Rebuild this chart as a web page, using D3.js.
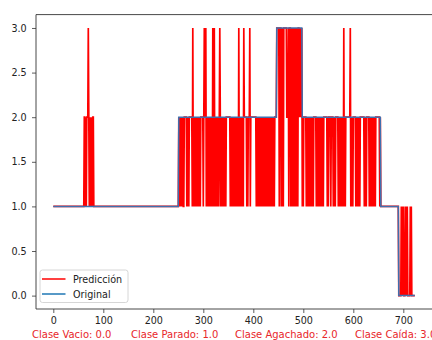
<!DOCTYPE html>
<html>
<head>
<meta charset="utf-8">
<script src="https://cdn.jsdelivr.net/npm/d3@7"></script>
<style>
  html, body { margin: 0; padding: 0; background: #fff; }
  svg { display: block; font-family: "DejaVu Sans", sans-serif; }
</style>
</head>
<body>
<svg id="chart" width="432" height="340"></svg>
<script>
// Ground-truth class per frame, as [class, number of frames] runs.
const originalRuns = [[1, 251], [2, 196], [3, 51], [2, 157], [1, 36], [0, 33]];

// Predicted class per frame: [class, frames] for steady stretches,
// digit strings (one digit per frame) where the prediction flickers.
const prediccionRuns = [
  [1, 62],
  "2212122232121212122",
  [1, 170],
  // frames 251-446
  "2121212121", "1222221212", "1222222131", "2121212121", "2121222221",
  "2322312121", "2121212131", "2312121212", "1232121212", "1212122222",
  "2221212121", "2121212121", "3121212121", "3222221212", "2231222222",
  "2222212121", "2121212121", "2121212121", "2121212121", "212222",
  // frames 447-497
  "3333", "3133313131", "3333332223", "1333131313", "1313131313", "3232323",
  // frames 498-654
  "121",
  "2222212121", "2121212121", "2222212121", "2121212121", "2222222121",
  "2222122221", "2121222221", "2121212121", "3121222222", "2223121212",
  "2222121212", "1212222222", "2121212222", "2121212121", "2121222222",
  "2212",
  [1, 35],
  // frames 690-723
  "1000001010100010101000001010000000"
];

const xTicks = [0, 100, 200, 300, 400, 500, 600, 700];
const yTicks = [0.0, 0.5, 1.0, 1.5, 2.0, 2.5, 3.0];
const legendItems = [
  { label: "Predicción", color: "#ff0000" },
  { label: "Original", color: "#1f77b4" }
];
const claseLabels = ["Clase Vacio: 0.0", "Clase Parado: 1.0", "Clase Agachado: 2.0", "Clase Caída: 3.0"];
const claseLabelX = [32, 131, 235, 355];

// Expand the run lists into per-frame values.
function expand(runs) {
  const out = [];
  runs.forEach(r => {
    if (typeof r === "string") {
      for (const ch of r) out.push(+ch);
    } else {
      for (let i = 0; i < r[1]; i++) out.push(r[0]);
    }
  });
  return out;
}
const original = expand(originalRuns);
const prediccion = expand(prediccionRuns);

const svg = d3.select("#chart");
const plotLeft = 36, plotRight = 434, plotTop = 14.6, plotBottom = 309;

const x = d3.scaleLinear().domain([-34.6, 761.4]).range([plotLeft, plotRight]);
const y = d3.scaleLinear().domain([-0.15, 3.15]).range([plotBottom, plotTop]);

svg.append("defs").append("clipPath").attr("id", "plotClip")
  .append("rect").attr("x", plotLeft).attr("y", plotTop)
  .attr("width", plotRight - plotLeft).attr("height", plotBottom - plotTop);

const line = d3.line().x((d, i) => x(i)).y(d => y(d));
const plotG = svg.append("g").attr("clip-path", "url(#plotClip)");

plotG.append("path").datum(prediccion)
  .attr("d", line).attr("fill", "none")
  .attr("stroke", "#ff0000").attr("stroke-width", 1.7)
  .attr("stroke-linejoin", "miter");

plotG.append("path").datum(original)
  .attr("d", line).attr("fill", "none")
  .attr("stroke", "#3f6fae").attr("stroke-width", 1.5);

// Axes
const xAxis = svg.append("g").attr("transform", `translate(0,${plotBottom})`)
  .call(d3.axisBottom(x).tickValues(xTicks).tickSize(4).tickPadding(4.2).tickFormat(d3.format("d")));
const yAxis = svg.append("g").attr("transform", `translate(${plotLeft},0)`)
  .call(d3.axisLeft(y).tickValues(yTicks).tickSize(4).tickPadding(5.3).tickFormat(d3.format(".1f")));

[xAxis, yAxis].forEach(g => {
  g.select(".domain").remove();
  g.selectAll(".tick line").attr("stroke", "#333").attr("stroke-width", 0.8);
  g.selectAll(".tick text").attr("fill", "#222").style("font-size", "9.6px")
    .style("font-family", "DejaVu Sans, sans-serif");
});

// Frame: left, top and bottom spines
svg.append("path")
  .attr("d", `M${plotRight + 2},${plotTop}H${plotLeft}V${plotBottom}H${plotRight + 2}`)
  .attr("fill", "none").attr("stroke", "#333").attr("stroke-width", 0.9);

// Legend
const lg = svg.append("g");
lg.append("rect").attr("x", 40).attr("y", 270).attr("width", 88).attr("height", 32.5)
  .attr("rx", 2.5).attr("fill", "#fff").attr("fill-opacity", 0.8)
  .attr("stroke", "#cccccc").attr("stroke-width", 0.8);
legendItems.forEach((it, i) => {
  const cy = 279 + i * 15;
  lg.append("line").attr("x1", 42).attr("x2", 65.5).attr("y1", cy).attr("y2", cy)
    .attr("stroke", it.color).attr("stroke-width", 1.5);
  lg.append("text").attr("x", 73).attr("y", cy + 3.5)
    .attr("fill", "#222").style("font-size", "9.6px").text(it.label);
});

// Class legend under the axis
svg.selectAll("text.clase").data(claseLabels).enter().append("text")
  .attr("class", "clase")
  .attr("x", (d, i) => claseLabelX[i]).attr("y", 338)
  .attr("fill", "#e8262a").style("font-size", "10px")
  .text(d => d);
</script>
</body>
</html>
